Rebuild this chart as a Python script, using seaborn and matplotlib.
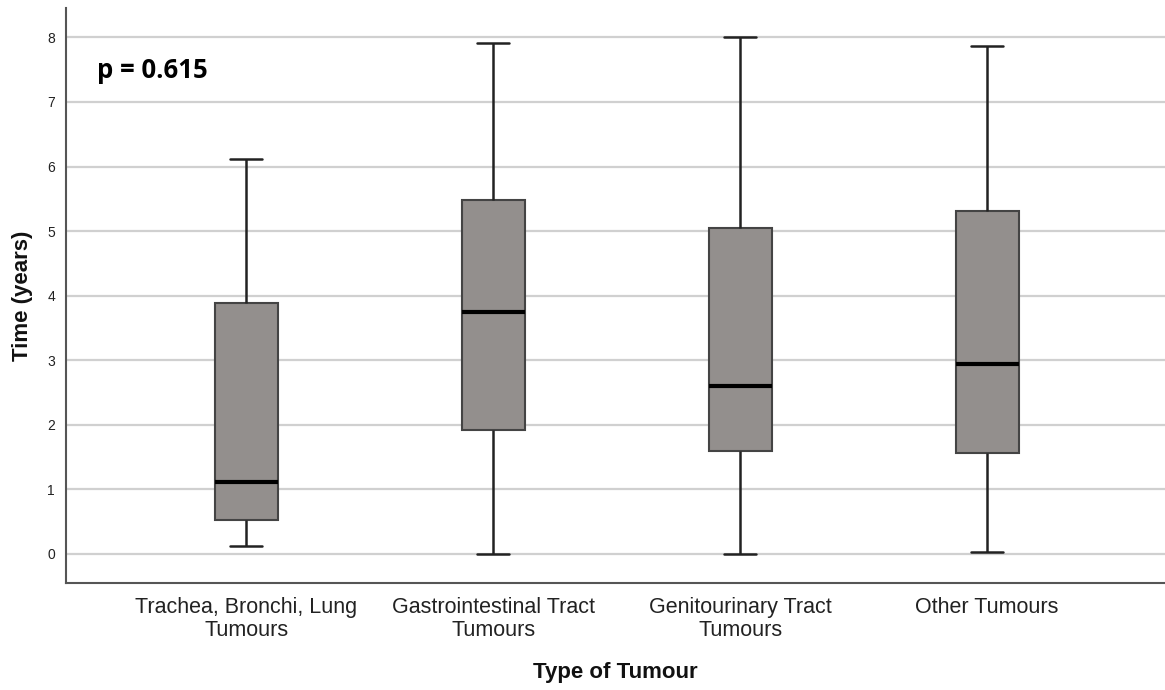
import matplotlib
matplotlib.use("Agg")
import matplotlib.pyplot as plt
import seaborn as sns
import pandas as pd

categories = ["Trachea, Bronchi, Lung\nTumours", "Gastrointestinal Tract\nTumours",
              "Genitourinary Tract\nTumours", "Other Tumours"]
mins = [0.13, 0.00, 0.00, 0.03]
q1s = [0.52, 1.92, 1.59, 1.56]
medians = [1.11, 3.75, 2.60, 2.94]
q3s = [3.88, 5.48, 5.05, 5.31]
maxs = [6.12, 7.92, 8.00, 7.86]
yticks = [0, 1, 2, 3, 4, 5, 6, 7, 8]

rows = []
for c, a, b, m, d, e in zip(categories, mins, q1s, medians, q3s, maxs):
    for v in (a, b, m, d, e):
        rows.append({"Type of Tumour": c, "Time (years)": v})
df = pd.DataFrame(rows)

sns.set_style("white")
plt.rcParams["font.family"] = ["Liberation Sans", "DejaVu Sans"]

fig = plt.figure(figsize=(11.65, 6.9), dpi=100)
ax = fig.add_axes([0.0567, 0.155, 0.9433, 0.833])

for y in yticks:
    ax.axhline(y, color="#d0d0d0", lw=1.6, zorder=0)

sns.boxplot(data=df, x="Type of Tumour", y="Time (years)", order=categories,
            whis=(0, 100), width=0.255, color="#938f8d", saturation=1,
            linecolor="#333333", linewidth=1.5,
            medianprops=dict(color="black", linewidth=3),
            whiskerprops=dict(color="#222222", linewidth=1.8),
            capprops=dict(color="#222222", linewidth=1.8),
            boxprops=dict(edgecolor="#444444", linewidth=1.5, zorder=2),
            showfliers=False, ax=ax)

ax.set_xlim(-0.729, 3.72)
ax.set_ylim(-0.45, 8.45)
ax.set_yticks(yticks)
ax.set_yticklabels([str(v) for v in yticks])
ax.tick_params(axis="y", length=0, pad=8, labelsize=10, colors="#222222")
ax.tick_params(axis="x", length=0, pad=10, labelsize=15.5, colors="#222222")
for lbl in ax.get_xticklabels():
    lbl.set_linespacing(1.12)

for s in ["top", "right"]:
    ax.spines[s].set_visible(False)
for s in ["left", "bottom"]:
    ax.spines[s].set_color("#555555")
    ax.spines[s].set_linewidth(1.5)

ax.set_xlabel("Type of Tumour", fontsize=16, fontweight="bold", labelpad=15, color="#111111")
ax.set_ylabel("Time (years)", fontsize=16, fontweight="bold", labelpad=10, color="#111111")

ax.text(0.028, 0.892, "p = 0.615", transform=ax.transAxes, fontsize=18.5,
        fontweight="bold", family=["Open Sans", "DejaVu Sans"], va="center", ha="left",
        color="black")

fig.savefig("out.png", dpi=100)
